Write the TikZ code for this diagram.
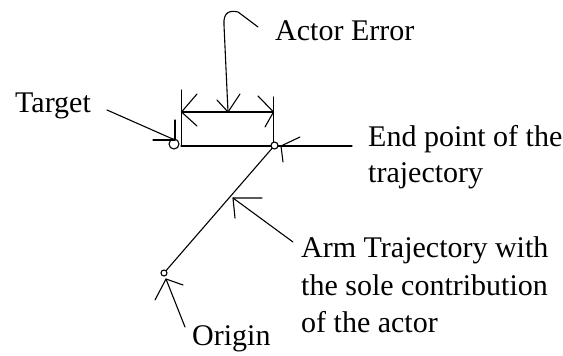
\documentclass[tikz,border=0pt]{standalone}
\usepackage{fontspec}
\setmainfont{Liberation Serif}
\begin{document}
\begin{tikzpicture}[x=1pt,y=-1pt,
  ln/.style={line width=1.1pt, line cap=round, line join=round},
  lbl/.style={anchor=base west, inner sep=0pt, font=\fontsize{30}{36}\selectfont},
  pt/.style={circle, draw, line width=1.1pt, inner sep=0pt, fill=white}]
\useasboundingbox (0,0) rectangle (563,356);

% labels
\node[lbl] (actor) at (275,40) {Actor Error};
\node[lbl] (targetlbl) at (15,112) {Target};
\node[lbl] (end1) at (368,146) {End point of the};
\node[lbl] (end2) at (368,182) {trajectory};
\node[lbl] (arm1) at (301,257) {Arm Trajectory with};
\node[lbl] (arm2) at (301,295) {the sole contribution};
\node[lbl] (arm3) at (301,332) {of the actor};
\node[lbl] (origlbl) at (192,345) {Origin};

% coordinates
\coordinate (hr) at (352,146);
\coordinate (lt) at (181.5,90);
\coordinate (lb) at (181.5,146);
\coordinate (rt) at (273.5,97);
\coordinate (rb) at (273.5,142);
\coordinate (dl) at (181.5,112);
\coordinate (dr) at (273.5,112);
\coordinate (dm) at (228,112);
\coordinate (cstart) at (258,27);
\coordinate (ttail) at (107,110);
\coordinate (ttip) at (175,140);
\coordinate (atip) at (233,198);
\coordinate (atail) at (293,242);
\coordinate (otip) at (166,279);
\coordinate (otail) at (185,327);
\coordinate (etip) at (281,146);

% main lines
\draw[ln] (181,146) -- (hr);
\draw[ln] (164,273) -- (274.5,145.5);
\draw[ln] (lt) -- (lb);
\draw[ln] (rt) -- (rb);
\draw[ln] (dl) -- (dr);

% points
\node[pt, minimum size=10pt] (target) at (174,144) {};
\node[pt, minimum size=7pt] (endp) at (274.5,145.5) {};
\node[pt, minimum size=6pt] (orig) at (164,273) {};

% dimension arrowheads
\draw[ln] (197,94) -- (dl) -- (197,126);
\draw[ln] (258,96) -- (dr) -- (265,127);
\draw[ln] (217,100) -- (dm) -- (240,94);

% actor error leader
\draw[ln] (dm) -- (224,25) .. controls (223,12) and (230,10) .. (238,12) -- (cstart);

% target leader
\draw[ln] (ttail) -- (ttip);
\draw[ln] (153,140) -- (ttip) -- (175,120);

% end point arrow wings
\draw[ln] (300,137) -- (etip) -- (283,162);

% trajectory leader
\draw[ln] (atail) -- (atip);
\draw[ln] (262,198) -- (atip) -- (235,218);

% origin leader
\draw[ln] (otail) -- (otip);
\draw[ln] (183,285) -- (otip) -- (155,300);
\end{tikzpicture}
\end{document}
